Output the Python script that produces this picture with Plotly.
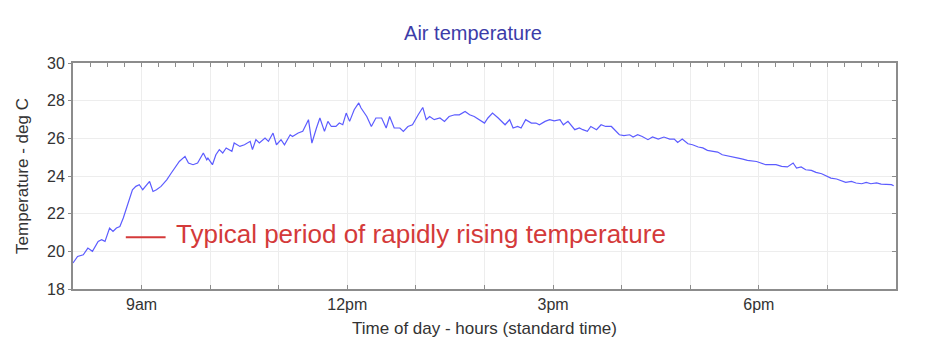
import plotly.graph_objects as go

# ---- data ----
times = [
    "8:00", "8:04", "8:09", "8:13", "8:17", "8:22", "8:25", "8:28", "8:32", "8:35",
    "8:38", "8:41", "8:44", "8:47", "8:50", "8:52", "8:55", "8:58", "9:01", "9:07",
    "9:10", "9:13", "9:17", "9:22", "9:26", "9:29", "9:33", "9:38", "9:41", "9:45",
    "9:49", "9:54", "9:57", "9:58", "10:02", "10:05", "10:08", "10:11", "10:14", "10:19",
    "10:21", "10:26", "10:30", "10:35", "10:37", "10:40", "10:43", "10:48", "10:51", "10:55",
    "10:58", "11:02", "11:05", "11:10", "11:12", "11:17", "11:21", "11:26", "11:29", "11:33",
    "11:36", "11:40", "11:43", "11:46", "11:50", "11:53", "11:56", "11:59", "12:02", "12:06",
    "12:10", "12:12", "12:17", "12:21", "12:25", "12:30", "12:34", "12:37", "12:41", "12:46",
    "12:49", "12:53", "12:57", "13:02", "13:06", "13:09", "13:12", "13:16", "13:21", "13:25",
    "13:29", "13:34", "13:38", "13:43", "13:47", "13:51", "13:56", "14:00", "14:03", "14:07",
    "14:12", "14:18", "14:22", "14:25", "14:29", "14:32", "14:36", "14:41", "14:45", "14:48",
    "14:53", "14:57", "15:01", "15:06", "15:09", "15:13", "15:19", "15:23", "15:26", "15:30",
    "15:33", "15:38", "15:42", "15:46", "15:51", "15:54", "15:58", "16:02", "16:07", "16:10",
    "16:14", "16:18", "16:23", "16:27", "16:32", "16:37", "16:42", "16:46", "16:49", "16:53",
    "16:58", "17:02", "17:07", "17:11", "17:15", "17:20", "17:24", "17:28", "17:33", "17:37",
    "17:42", "17:46", "17:50", "17:58", "18:02", "18:06", "18:11", "18:15", "18:20", "18:25",
    "18:30", "18:33", "18:37", "18:41", "18:46", "18:50", "18:55", "18:59", "19:03", "19:08",
    "19:12", "19:16", "19:21", "19:25", "19:30", "19:34", "19:38", "19:43", "19:47", "19:51",
    "19:56", "19:58",
]
temps = [
    19.38, 19.73, 19.82, 20.17, 20.00, 20.53, 20.62, 20.53, 21.24, 21.06,
    21.24, 21.32, 21.77, 22.38, 23.00, 23.27, 23.45, 23.54, 23.27, 23.71,
    23.18, 23.27, 23.45, 23.80, 24.16, 24.42, 24.77, 25.04, 24.69, 24.60,
    24.69, 25.22, 24.86, 24.95, 24.60, 25.13, 25.40, 25.22, 25.49, 25.31,
    25.75, 25.57, 25.66, 25.84, 25.40, 25.93, 25.75, 26.02, 25.84, 26.28,
    25.66, 25.93, 25.66, 26.19, 26.10, 26.28, 26.37, 26.99, 25.75, 26.55,
    27.08, 26.37, 26.90, 26.63, 26.63, 26.81, 26.72, 27.34, 26.90, 27.52,
    27.88, 27.61, 27.16, 26.63, 27.08, 27.08, 26.55, 27.16, 26.55, 26.55,
    26.37, 26.63, 26.72, 27.25, 27.64, 26.99, 27.16, 26.99, 27.08, 26.90,
    27.16, 27.25, 27.25, 27.43, 27.25, 27.16, 26.99, 26.81, 27.08, 27.34,
    27.08, 26.72, 26.99, 26.55, 26.63, 26.55, 26.99, 26.81, 26.81, 26.72,
    26.90, 26.99, 26.93, 26.99, 26.72, 26.90, 26.46, 26.55, 26.46, 26.37,
    26.63, 26.46, 26.72, 26.63, 26.63, 26.46, 26.19, 26.14, 26.19, 26.07,
    26.19, 26.10, 25.93, 26.07, 25.96, 26.07, 25.96, 25.96, 25.78, 25.96,
    25.71, 25.66, 25.54, 25.49, 25.36, 25.31, 25.27, 25.13, 25.08, 25.01,
    24.95, 24.90, 24.83, 24.77, 24.69, 24.60, 24.60, 24.60, 24.51, 24.48,
    24.69, 24.42, 24.48, 24.33, 24.30, 24.19, 24.12, 24.01, 23.89, 23.84,
    23.77, 23.66, 23.71, 23.63, 23.59, 23.66, 23.59, 23.63, 23.57, 23.57,
    23.54, 23.48,
]
tick_values = [9, 12, 15, 18]
tick_labels = ["9am", "12pm", "3pm", "6pm"]
note_text = "Typical period of rapidly rising temperature"

# ---- convert to decimal hours ----
hours = [int(t.split(":")[0]) + int(t.split(":")[1]) / 60 for t in times]

FONT = "Liberation Sans, Arial, sans-serif"
AXIS_COLOR = "#8c8c8c"
GRID = "#ededed"
TXT = "#333333"
W, H = 937, 358

fig = go.Figure()
fig.add_trace(go.Scatter(
    x=hours, y=temps, mode="lines",
    line=dict(color="#5c5cff", width=1.2),
    showlegend=False, hoverinfo="x+y",
))
# invisible trace to activate top / right axes
fig.add_trace(go.Scatter(x=[hours[0]], y=[temps[0]], xaxis="x2", yaxis="y2",
                         mode="lines", showlegend=False, hoverinfo="skip",
                         line=dict(width=0)))

fig.update_layout(
    width=W, height=H,
    margin=dict(l=65, r=49, t=55, b=77),
    paper_bgcolor="white", plot_bgcolor="white",
    font=dict(family=FONT, color=TXT, size=16),
    title=dict(text="Air temperature", x=465 / W, xanchor="center",
               y=1 - 25 / H, yanchor="middle",
               font=dict(family=FONT, size=20, color="#3c3ca8")),
    xaxis=dict(
        range=[8, 20], tickmode="array", tickvals=tick_values, ticktext=tick_labels,
        ticks="inside", ticklen=4, tickcolor=AXIS_COLOR,
        showgrid=True, gridcolor=GRID, gridwidth=1,
        minor=dict(dtick=1, tick0=8, ticks="inside", ticklen=4, tickcolor=AXIS_COLOR,
                   showgrid=True, gridcolor=GRID),
        showline=True, linecolor=AXIS_COLOR, linewidth=2, mirror=True,
        zeroline=False, tickfont=dict(size=16, color=TXT),
        title=dict(text="Time of day - hours (standard time)", standoff=10,
                   font=dict(size=17, color=TXT)),
    ),
    xaxis2=dict(
        range=[8, 20], overlaying="x", side="top", matches="x",
        tickmode="linear", tick0=8, dtick=0.25, ticks="inside", ticklen=4,
        tickcolor=AXIS_COLOR, showticklabels=False, showgrid=False, zeroline=False,
    ),
    yaxis=dict(
        range=[18, 30], tickmode="linear", tick0=18, dtick=2,
        ticks="outside", ticklen=3, tickcolor=AXIS_COLOR,
        showgrid=True, gridcolor=GRID, gridwidth=1,
        showline=True, linecolor=AXIS_COLOR, linewidth=2, mirror=True,
        zeroline=False, tickfont=dict(size=16, color=TXT),
        title=dict(text="Temperature - deg C", standoff=14,
                   font=dict(size=17, color=TXT)),
    ),
    yaxis2=dict(
        range=[18, 30], overlaying="y", side="right", matches="y",
        tickmode="linear", tick0=18, dtick=2, ticks="inside", ticklen=4,
        tickcolor=AXIS_COLOR, showticklabels=False, showgrid=False, zeroline=False,
    ),
)

# annotation: red legend-like line and text
fig.add_shape(type="line", xref="x", yref="y", x0=8.77, x1=9.35, y0=20.75, y1=20.75,
              line=dict(color="#d43a3a", width=2))
fig.add_annotation(x=9.47, y=20.9, xref="x", yref="y", text=note_text,
                   showarrow=False, xanchor="left", yanchor="middle",
                   font=dict(family=FONT, size=26, color="#d43a3a"))

fig.write_html("out.html")
